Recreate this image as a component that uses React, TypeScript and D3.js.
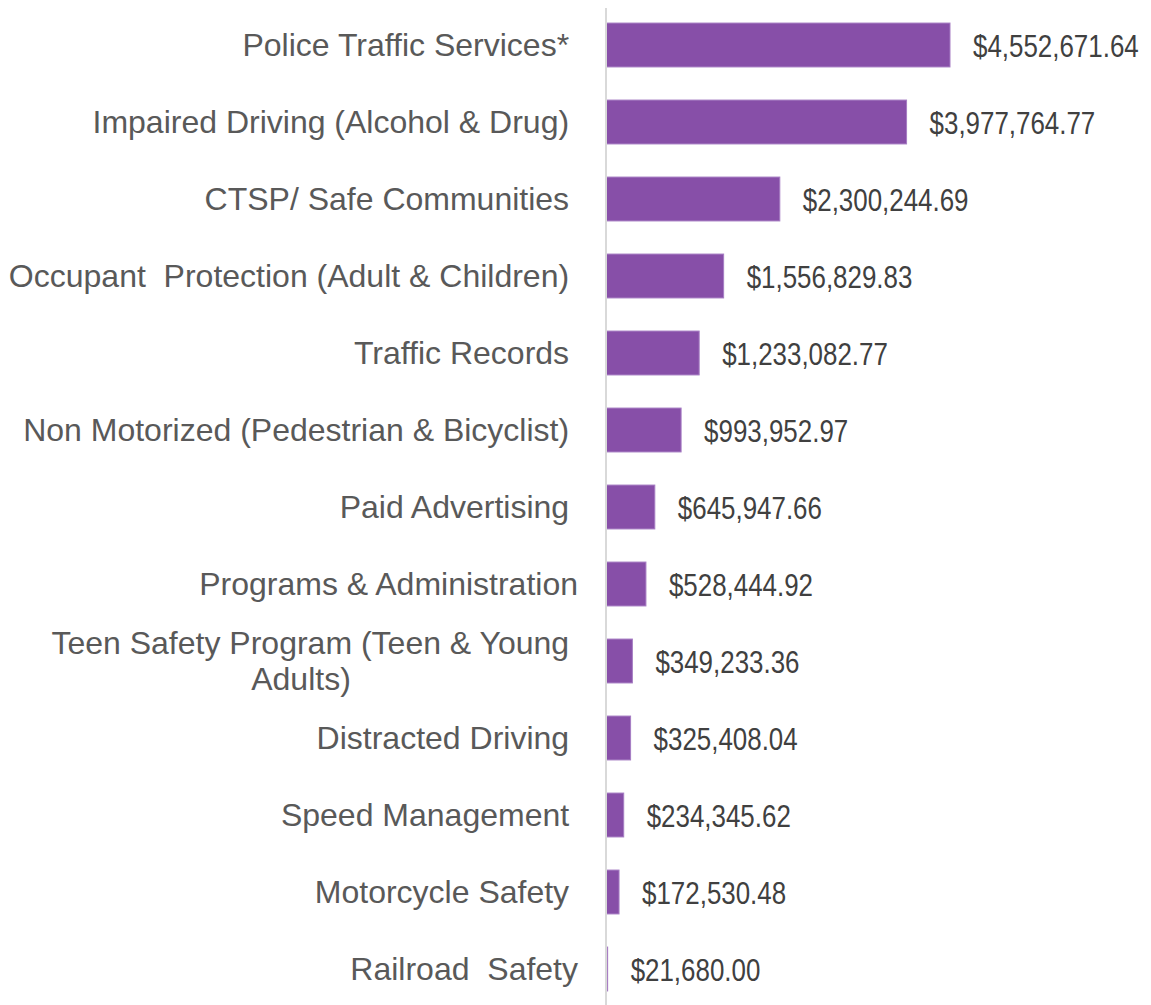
import React from "react";
import * as d3 from "d3";

const categories = [
  "Police Traffic Services* ",
  "Impaired Driving (Alcohol & Drug) ",
  "CTSP/ Safe Communities ",
  "Occupant  Protection (Adult & Children) ",
  "Traffic Records ",
  "Non Motorized (Pedestrian & Bicyclist) ",
  "Paid Advertising ",
  "Programs & Administration",
  "Teen Safety Program (Teen & Young |Adults)",
  "Distracted Driving ",
  "Speed Management ",
  "Motorcycle Safety ",
  "Railroad  Safety",
];

const values = [
  4552671.64, 3977764.77, 2300244.69, 1556829.83, 1233082.77, 993952.97,
  645947.66, 528444.92, 349233.36, 325408.04, 234345.62, 172530.48, 21680.0,
];

const W = 1151;
const H = 1005;
const axisX = 606;
const fmt = (v: number) => "$" + d3.format(",.2f")(v);

export default function App() {
  const y = d3
    .scaleBand<number>()
    .domain(d3.range(categories.length))
    .range([6.5, 1007.5])
    .paddingInner(0.43)
    .paddingOuter(0.215);
  const x = d3.scaleLinear().domain([0, 1e6]).range([axisX, axisX + 75.56]);

  return (
    <svg
      width={W}
      height={H}
      style={{ position: "absolute", left: 0, top: 0, background: "#fff" }}
    >
      {values.map((v, i) => {
        const y0 = y(i)!;
        const bh = y.bandwidth();
        const cy = y0 + bh / 2;
        const lines = categories[i].split("|");
        return (
          <g key={i}>
            <rect
              x={x(0)}
              y={y0}
              width={x(v) - x(0)}
              height={bh}
              fill="#874FA8"
              stroke="#A67DC3"
              strokeWidth={1}
            />
            <text
              transform={`translate(${x(v) + 23},${cy}) scale(0.81,1)`}
              dy="0.36em"
              fontFamily="'Liberation Sans Narrow', 'Liberation Sans', Arial, sans-serif"
              fontSize={32}
              fill="#404040"
            >
              {fmt(v)}
            </text>
            {lines.length === 1 ? (
              <text
                x={578}
                y={cy}
                dy="0.35em"
                textAnchor="end"
                fontFamily="'Liberation Sans', Arial, sans-serif"
                fontSize={32}
                fill="#595959"
                style={{ whiteSpace: "pre" }}
              >
                {lines[0]}
              </text>
            ) : (
              lines.map((ln, j) => (
                <text
                  key={j}
                  x={j === 0 ? 578 : 301}
                  y={cy + (j - (lines.length - 1) / 2) * 36}
                  dy="0.35em"
                  textAnchor={j === 0 ? "end" : "middle"}
                  fontFamily="'Liberation Sans', Arial, sans-serif"
                  fontSize={32}
                  fill="#595959"
                  style={{ whiteSpace: "pre" }}
                >
                  {ln}
                </text>
              ))
            )}
          </g>
        );
      })}
      <line x1={axisX} x2={axisX} y1={8} y2={H} stroke="#D9D9D9" strokeWidth={2} />
    </svg>
  );
}
